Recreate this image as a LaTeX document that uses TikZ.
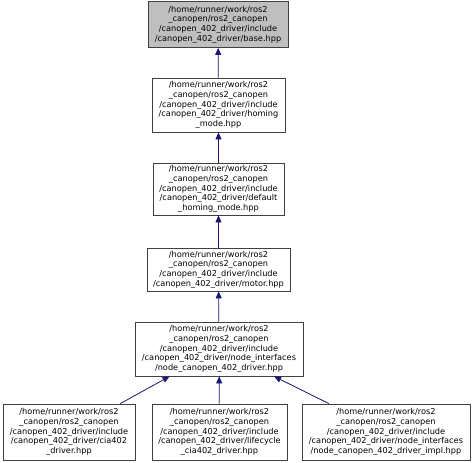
\documentclass[tikz,border=0pt]{standalone}
\usepackage{fontspec}
\setmainfont{DejaVu Sans}
\usetikzlibrary{arrows.meta}
\definecolor{edgeblue}{HTML}{191970}
\definecolor{boxline}{HTML}{404040}
\definecolor{boxfill}{HTML}{BFBFBF}
\begin{document}
\begin{tikzpicture}[x=1pt,y=1pt,
  file/.style={draw=boxline,line width=0.8pt,fill=white,rectangle,align=center,inner sep=0pt,
    font=\fontsize{8.2}{9.7}\selectfont},
  dep/.style={draw=edgeblue,line width=0.8pt,-{Triangle[length=7pt,width=6pt]},fill=none}]
\useasboundingbox (0,0) rectangle (474,-463);
\node[file,fill=boxfill,minimum width=140,minimum height=46] (b1) at (218,-24.5)
  {/home/runner/work/ros2\\\_canopen/ros2\_canopen\\/canopen\_402\_driver/include\\/canopen\_402\_driver/base.hpp};
\node[file,minimum width=133,minimum height=54] (b2) at (218.5,-105)
  {/home/runner/work/ros2\\\_canopen/ros2\_canopen\\/canopen\_402\_driver/include\\/canopen\_402\_driver/homing\\\_mode.hpp};
\node[file,minimum width=131,minimum height=52] (b3) at (218.5,-189)
  {/home/runner/work/ros2\\\_canopen/ros2\_canopen\\/canopen\_402\_driver/include\\/canopen\_402\_driver/default\\\_homing\_mode.hpp};
\node[file,minimum width=143,minimum height=43] (b4) at (218.5,-269.5)
  {/home/runner/work/ros2\\\_canopen/ros2\_canopen\\/canopen\_402\_driver/include\\/canopen\_402\_driver/motor.hpp};
\node[file,minimum width=168,minimum height=54] (b5) at (219,-349)
  {/home/runner/work/ros2\\\_canopen/ros2\_canopen\\/canopen\_402\_driver/include\\/canopen\_402\_driver/node\_interfaces\\/node\_canopen\_402\_driver.hpp};
\node[file,minimum width=132,minimum height=56] (b6) at (69,-432)
  {/home/runner/work/ros2\\\_canopen/ros2\_canopen\\/canopen\_402\_driver/include\\/canopen\_402\_driver/cia402\\\_driver.hpp};
\node[file,minimum width=135,minimum height=56] (b7) at (219.5,-432)
  {/home/runner/work/ros2\\\_canopen/ros2\_canopen\\/canopen\_402\_driver/include\\/canopen\_402\_driver/lifecycle\\\_cia402\_driver.hpp};
\node[file,minimum width=168,minimum height=56] (b8) at (386,-432)
  {/home/runner/work/ros2\\\_canopen/ros2\_canopen\\/canopen\_402\_driver/include\\/canopen\_402\_driver/node\_interfaces\\/node\_canopen\_402\_driver\_impl.hpp};
\draw[dep] (b2) -- (b1);
\draw[dep] (b3) -- (b2);
\draw[dep] (b4) -- (b3);
\draw[dep] (b5) -- (b4);
\draw[dep] (b6) -- (b5);
\draw[dep] (b7) -- (b5);
\draw[dep] (b8) -- (b5);
\end{tikzpicture}
\end{document}
